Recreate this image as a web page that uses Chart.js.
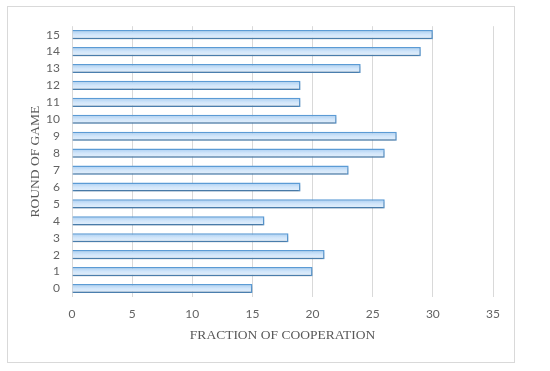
<!DOCTYPE html>
<html>
<head>
<meta charset="utf-8">
<script src="https://cdn.jsdelivr.net/npm/chart.js@4"></script>
<style>
  body { margin: 0; background: #fff; }
  #box {
    position: absolute; left: 7px; top: 6px;
    width: 506px; height: 355px;
    border: 1px solid #d9d9d9;
  }
</style>
</head>
<body>
<div id="box"><canvas id="chart"></canvas></div>
<script>
const rounds = ['0', '1', '2', '3', '4', '5', '6', '7', '8', '9', '10', '11', '12', '13', '14', '15']
const cooperation = [15, 20, 21, 18, 16, 26, 19, 23, 26, 27, 22, 19, 19, 24, 29, 30]
const xTicks = [0, 5, 10, 15, 20, 25, 30, 35]

const tickFont = {family: 'Lato, "Open Sans", sans-serif', size: 12}
const titleFont = {family: '"Liberation Serif", serif', size: 13.5}

// light blue gradient per bar, worked out from the bar's own position
const barFill = (ctx) => {
  const chart = ctx.chart
  const yScale = chart.scales.y
  if (!yScale || ctx.dataIndex === undefined) return '#c6e0f8'
  const y = yScale.getPixelForValue(ctx.dataIndex)
  if (!isFinite(y)) return '#c6e0f8'
  const g = chart.ctx.createLinearGradient(0, y - 5, 0, y + 5)
  g.addColorStop(0, '#a3caf0')
  g.addColorStop(0.5, '#d2e6fa')
  g.addColorStop(1, '#e6f1fc')
  return g
}

const barShadow = {
  id: 'barShadow',
  beforeDatasetsDraw(chart) {
    const c = chart.ctx
    c.save()
    c.shadowColor = 'rgba(0,0,0,0.22)'
    c.shadowBlur = 2
    c.shadowOffsetY = 2
  },
  afterDatasetsDraw(chart) {
    chart.ctx.restore()
  }
}

new Chart(document.getElementById('chart'), {
  type: 'bar',
  data: {
    labels: rounds,
    datasets: [{
      data: cooperation,
      backgroundColor: barFill,
      borderColor: '#5b9bd5',
      borderWidth: 1.5,
      barPercentage: 0.54,
      categoryPercentage: 1
    }]
  },
  options: {
    indexAxis: 'y',
    responsive: true,
    maintainAspectRatio: false,
    animation: false,
    layout: {padding: {top: 10, right: 21, left: 0, bottom: 0}},
    plugins: {legend: {display: false}, tooltip: {enabled: false}},
    scales: {
      x: {
        min: 0,
        max: 35,
        afterBuildTicks: (scale) => { scale.ticks = xTicks.map(v => ({value: v})) },
        grid: {color: '#d9d9d9', lineWidth: 1, drawTicks: false},
        border: {display: false},
        ticks: {color: '#636363', font: tickFont, padding: 10},
        title: {
          display: true, text: 'FRACTION OF COOPERATION',
          color: '#595959', font: titleFont, padding: {top: 0, bottom: 18}
        },
        afterFit: (scale) => { scale.height = 65 }
      },
      y: {
        reverse: true,
        grid: {display: false, drawTicks: false},
        border: {display: false},
        ticks: {color: '#636363', font: tickFont, padding: 12, autoSkip: false},
        title: {
          display: true, text: 'ROUND OF GAME',
          color: '#595959', font: titleFont, padding: {top: 19, bottom: 0}
        },
        afterFit: (scale) => { scale.width = 64 }
      }
    }
  },
  plugins: [barShadow]
})
</script>
</body>
</html>
